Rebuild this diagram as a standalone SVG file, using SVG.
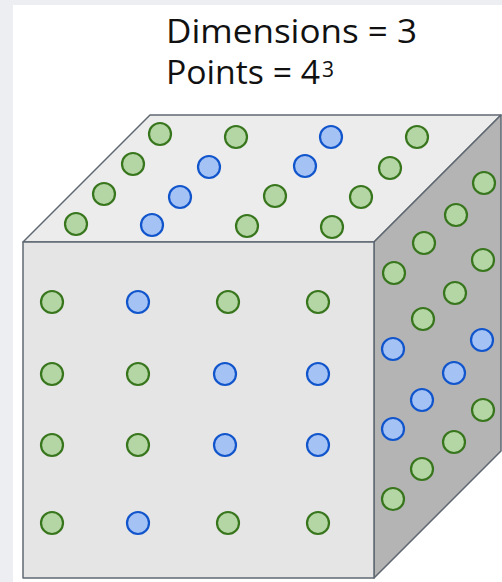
<svg xmlns="http://www.w3.org/2000/svg" width="502" height="582" viewBox="0 0 502 582">
<style>
.t{font-family:"Open Sans","Liberation Sans",sans-serif;font-size:32px;fill:#111}
.face{stroke:#5f6872;stroke-width:1.5;stroke-linejoin:round}
.g{fill:#b4d5a4;stroke:#38761d;stroke-width:2.2}
.b{fill:#a4c2f4;stroke:#1155cc;stroke-width:2.2}
</style>
<rect x="0" y="0" width="502" height="582" fill="#eceef1"/>
<rect x="13" y="5" width="489" height="577" fill="#ffffff"/>
<g id="title">
<text class="t" x="166" y="43" textLength="251" lengthAdjust="spacingAndGlyphs">Dimensions = 3</text>
<text class="t" x="166" y="84"><tspan textLength="154" lengthAdjust="spacingAndGlyphs">Points = 4</tspan><tspan x="322" y="77" font-size="21">3</tspan></text>
</g>
<g id="cube">
<polygon id="top-face" class="face" points="23,242 150,115 501,115 374,242" fill="#ececec"/>
<polygon id="right-face" class="face" points="374,242 501,115 501,451 374,578" fill="#b4b4b4"/>
<rect id="front-face" class="face" x="23" y="242" width="351" height="336" fill="#e5e5e5"/>
</g>
<g id="front-points">
<circle class="g" cx="52" cy="302" r="11"/><circle class="b" cx="138" cy="302" r="11"/><circle class="g" cx="228" cy="302" r="11"/><circle class="g" cx="318" cy="302" r="11"/>
<circle class="g" cx="52" cy="374" r="11"/><circle class="g" cx="138" cy="374" r="11"/><circle class="b" cx="225" cy="374" r="11"/><circle class="b" cx="318" cy="374" r="11"/>
<circle class="g" cx="52" cy="445" r="11"/><circle class="g" cx="138" cy="445" r="11"/><circle class="b" cx="225" cy="445" r="11"/><circle class="b" cx="318" cy="445" r="11"/>
<circle class="g" cx="52" cy="523" r="11"/><circle class="b" cx="138" cy="523" r="11"/><circle class="g" cx="228" cy="523" r="11"/><circle class="g" cx="318" cy="523" r="11"/>
</g>
<g id="top-points">
<circle class="g" cx="76" cy="224" r="11"/><circle class="b" cx="152" cy="225" r="11"/><circle class="g" cx="247" cy="226" r="11"/><circle class="g" cx="332" cy="227" r="11"/>
<circle class="g" cx="104" cy="194" r="11"/><circle class="b" cx="180" cy="197" r="11"/><circle class="g" cx="275" cy="196" r="11"/><circle class="g" cx="361" cy="197" r="11"/>
<circle class="g" cx="133" cy="164" r="11"/><circle class="b" cx="209" cy="167" r="11"/><circle class="b" cx="305" cy="166" r="11"/><circle class="g" cx="390" cy="168" r="11"/>
<circle class="g" cx="160" cy="134" r="11"/><circle class="g" cx="236" cy="137" r="11"/><circle class="b" cx="331" cy="137" r="11"/><circle class="g" cx="417" cy="137" r="11"/>
</g>
<g id="right-points">
<circle class="g" cx="394" cy="273" r="11"/><circle class="g" cx="424" cy="243" r="11"/><circle class="g" cx="456" cy="215" r="11"/><circle class="g" cx="484" cy="183" r="11"/>
<circle class="b" cx="393" cy="349" r="11"/><circle class="g" cx="423" cy="319" r="11"/><circle class="g" cx="455" cy="293" r="11"/><circle class="g" cx="483" cy="260" r="11"/>
<circle class="b" cx="393" cy="429" r="11"/><circle class="b" cx="422" cy="400" r="11"/><circle class="b" cx="454" cy="373" r="11"/><circle class="b" cx="482" cy="340" r="11"/>
<circle class="g" cx="393" cy="499" r="11"/><circle class="g" cx="422" cy="469" r="11"/><circle class="g" cx="454" cy="442" r="11"/><circle class="g" cx="483" cy="410" r="11"/>
</g>
</svg>
